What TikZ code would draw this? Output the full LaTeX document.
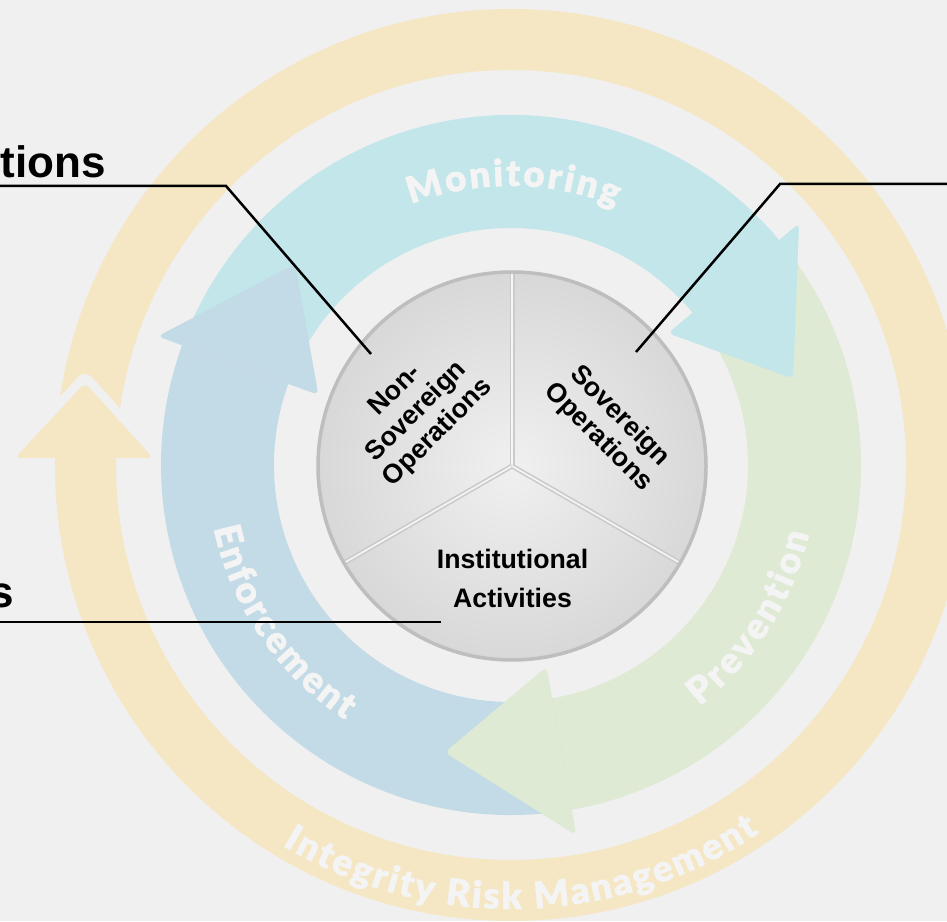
\documentclass[tikz,border=0pt]{standalone}
\usepackage{fontspec}
\setmainfont{Liberation Sans}
\newfontfamily\ringfont{Lato Bold}[FakeBold=1.0]
\usetikzlibrary{decorations.text}
\definecolor{bg}{HTML}{F0F0F0}
\definecolor{yel}{HTML}{F5E6C4}
\definecolor{cya}{HTML}{C2E6EA}
\definecolor{grn}{HTML}{DEEAD3}
\definecolor{blu}{HTML}{C3DBE7}
\definecolor{rtext}{HTML}{F4F4F4}
\definecolor{pieb}{HTML}{BEBEBE}
\definecolor{pieIn}{HTML}{F0F0F0}
\definecolor{pieOut}{HTML}{D8D8D8}
\definecolor{divd}{HTML}{CBCBCB}
\definecolor{divl}{HTML}{F6F6F6}
\tikzset{
  ringlabel/.style={decorate, decoration={text along path, text align={fit to path}, text color=rtext,
    text={|\ringfont\bfseries\fontsize{37}{37}\selectfont|#1}}},
  pietext/.style={font=\bfseries\fontsize{26.7}{30}\selectfont, align=center, inner sep=0pt},
  sidelabel/.style={font=\bfseries\fontsize{44}{44}\selectfont, inner sep=0pt, anchor=base east},
  lead/.style={black, line width=2.5pt},
  headshape/.style={rounded corners=6pt}
}
\begin{document}
\begin{tikzpicture}[x=1pt,y=1pt]
\useasboundingbox (0,0) rectangle (947,921);
\fill[bg] (0,0) rectangle (947,921);
\begin{scope}[shift={(511,456)}]
  % outer yellow ring with arrow head
  \fill[yel, even odd rule] (0,0) circle[radius=456] (0,0) circle[radius=395];
  \draw[bg, line width=18pt, line join=round] (-496,7) -- (-426,82) -- (-358,7);
  \fill[yel, headshape] (-496,7) -- (-426,82) -- (-358,7) -- cycle;
  % middle ring bodies
  \fill[cya] (157:350) arc[start angle=157, end angle=40, radius=350] -- (40:237) arc[start angle=40, end angle=157, radius=237] -- cycle;
  \fill[grn] (40:350) arc[start angle=40, end angle=-80, radius=350] -- (-80:237) arc[start angle=-80, end angle=40, radius=237] -- cycle;
  \fill[blu] (-80:350) arc[start angle=-80, end angle=-200, radius=350] -- (-200:237) arc[start angle=-200, end angle=-80, radius=237] -- cycle;
  % heads
  \fill[cya, headshape] (40:205) -- (40:376) -- (17:295) -- cycle;
  \fill[grn, headshape] (-80:205) -- (-80:376) -- (-103:295) -- cycle;
  \fill[blu, headshape] (160:205) -- (160:376) -- (137:295) -- cycle;
  % ring labels
  \path[ringlabel=Monitoring] (111:279) arc[start angle=111, end angle=68, radius=279];
  \path[ringlabel=Prevention] (-52:306) arc[start angle=-52, end angle=-13, radius=306];
  \path[ringlabel=Enforcement] (192:304) arc[start angle=192, end angle=237, radius=304];
  \path[ringlabel=Integrity Risk Management] (239:444) arc[start angle=239, end angle=304, radius=444];
\end{scope}
% central pie
\node[circle, minimum size=388pt, inner sep=0pt, inner color=pieIn, outer color=pieOut] (pie) at (512,455) {};
\foreach \a in {90,210,330}{
  \draw[divd, line width=5pt] (pie.center) -- ++(\a:193);
  \draw[divl, line width=1.6pt] (pie.center) -- ++(\a:193);
}
\draw[pieb, line width=3.5pt] (pie.center) circle[radius=194];
\node[pietext, rotate=45] (nonsov) at (417,509) {Non-\\Sovereign\\Operations};
\node[pietext, rotate=-45] (sov) at (609,494) {Sovereign\\Operations};
\node[pietext, font=\bfseries\fontsize{26.7}{39}\selectfont] (inst) at (512.5,343) {Institutional\\Activities};
% side labels and leader lines
\node[sidelabel] (lblA) at (106,743) {tions};
\node[sidelabel] (lblB) at (14,313) {s};
\coordinate (l1a) at (0,735);
\coordinate (l1b) at (226,735);
\coordinate (l1c) at (371,567);
\coordinate (l2a) at (947,737);
\coordinate (l2b) at (780,737);
\coordinate (l2c) at (636,569);
\coordinate (l3a) at (0,299);
\coordinate (l3b) at (441,299);
\draw[lead] (l1a) -- (l1b) -- (l1c);
\draw[lead] (l2a) -- (l2b) -- (l2c);
\draw[lead] (l3a) -- (l3b);
\end{tikzpicture}
\end{document}
